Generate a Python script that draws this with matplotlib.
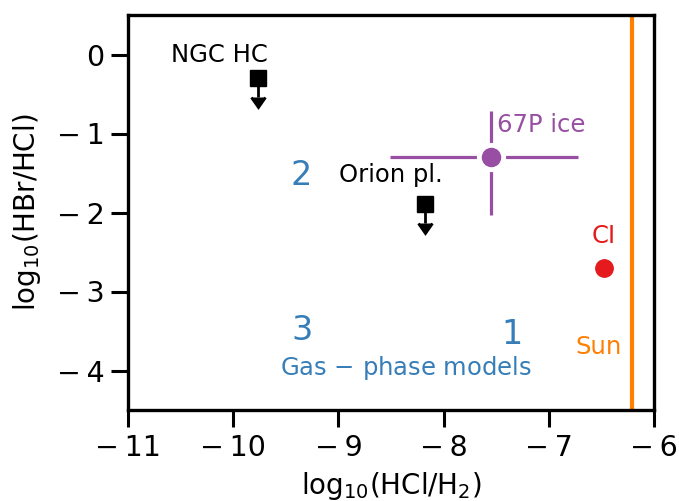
import matplotlib
matplotlib.use("Agg")
import matplotlib.pyplot as plt

# upper limits (squares with arrows)
lim_names = ["NGC HC", "Orion pl."]
lim_x = [-9.76, -8.18]
lim_y = [-0.30, -1.89]

# 67P ice measurement with asymmetric errors
comet_x = -7.55
comet_y = -1.30
comet_xerr = [[0.96], [0.83]]
comet_yerr = [[0.73], [0.58]]

# CI chondrites and the Sun
ci_x, ci_y = -6.48, -2.70
sun_x = -6.21

xticks = [-11, -10, -9, -8, -7, -6]
yticks = [0, -1, -2, -3, -4]

blue, purple, red, orange = "#377eb8", "#984ea3", "#e41a1c", "#ff7f00"


def tick_fmt(v):
    return "0" if v == 0 else "\u2212\u2009%d" % abs(v)


fig = plt.figure(figsize=(6.79, 5.01), dpi=100)
ax = fig.add_axes([128 / 679, 1 - 410 / 501, 526 / 679, 395 / 501])

ax.errorbar(lim_x, lim_y, yerr=0.24, uplims=True, fmt="s", color="k",
            ms=11, lw=2, capsize=5, capthick=2)
ax.errorbar([comet_x], [comet_y], xerr=comet_xerr, yerr=comet_yerr, fmt="none",
            ecolor=purple, lw=2.3)
ax.plot([comet_x], [comet_y], "o", color="white", ms=20, zorder=3)
ax.plot([comet_x], [comet_y], "o", color=purple, ms=13, zorder=4)
ax.plot([ci_x], [ci_y], "o", color=red, ms=12.5)
ax.axvline(sun_x, color=orange, lw=3)

ax.text(-10.13, 0.0, "NGC HC", fontsize=17.5, ha="center", va="center")
ax.text(-8.5, -1.53, "Orion pl.", fontsize=17.5, ha="center", va="center")
ax.text(-7.07, -0.89, "67P ice", fontsize=17.5, ha="center", va="center", color=purple)
ax.text(-6.48, -2.30, "CI", fontsize=17.5, ha="center", va="center", color=red)
ax.text(-6.53, -3.70, "Sun", fontsize=17.5, ha="center", va="center", color=orange)
ax.text(-9.35, -1.53, "2", fontsize=24, ha="center", va="center", color=blue)
ax.text(-9.35, -3.50, "3", fontsize=24, ha="center", va="center", color=blue)
ax.text(-7.35, -3.54, "1", fontsize=24, ha="center", va="center", color=blue)
ax.text(-8.36, -3.97, "Gas $-$ phase models", fontsize=17.5, ha="center",
        va="center", color=blue)

ax.set_xlim(-11, -6)
ax.set_ylim(-4.5, 0.5)
ax.set_xticks(xticks)
ax.set_xticklabels([tick_fmt(v) for v in xticks])
ax.set_yticks(yticks)
ax.set_yticklabels([tick_fmt(v) for v in yticks])
ax.tick_params(labelsize=20.5, width=2.2, length=12, pad=5)
for s in ax.spines.values():
    s.set_linewidth(2.4)
ax.set_xlabel(r"log$_{10}$(HCl/H$_2$)", fontsize=20, labelpad=6)
ax.set_ylabel(r"log$_{10}$(HBr/HCl)", fontsize=20, labelpad=10)

fig.savefig("out.png", dpi=100)
